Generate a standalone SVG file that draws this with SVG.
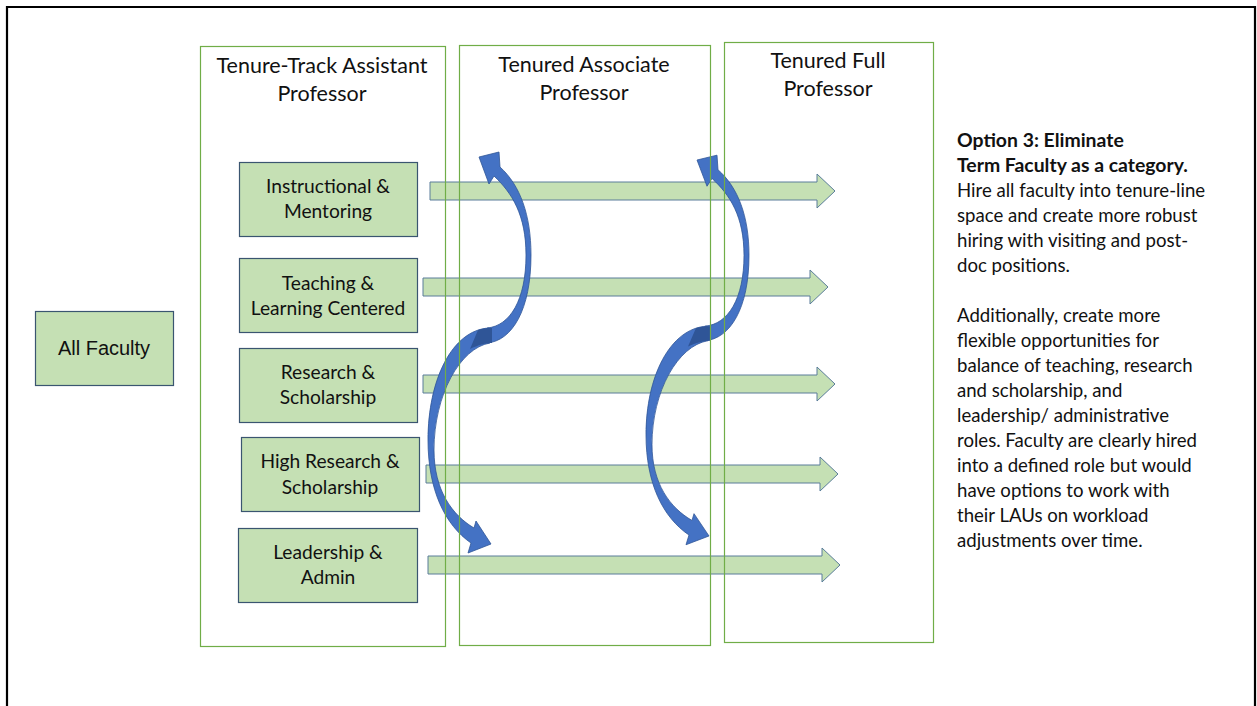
<svg xmlns="http://www.w3.org/2000/svg" width="1257" height="706" viewBox="0 0 1257 706">
<defs>
<style>
.col{fill:none;stroke:#70ad47;stroke-width:1.2}
.box{fill:#c5e0b4;stroke:#3a5570;stroke-width:1.2}
.harrow{fill:#c5e0b4;stroke:#5a7d9a;stroke-width:1}
.curl{fill:#4472c4;stroke:#2f5597;stroke-width:0.8}
.crease{fill:#2f5597}
.t{font-family:Lato,"Liberation Sans",sans-serif;fill:#111;text-anchor:middle}
.title{font-size:21.5px}
.lbl{font-size:19.2px}
.side{font-family:Lato,"Liberation Sans",sans-serif;fill:#111;font-size:18.6px}
.b{font-weight:bold;font-size:19.4px}
</style>
<g id="curlShape">
<path class="curl" d="M 487,343 C 512,341 531,310 531,255 C 531,215 520,185 500,167 L 499,152 L 479,157 L 489,184 L 494,176 C 512,193 526,215 526,255 C 526,300 510,326 487,328 Z"/>
<path class="curl" d="M 489,328 C 452,330 428,380 428,440 C 428,490 445,525 471,543 L 468,553 L 491,544 L 476,521 L 474,528 C 452,515 434,490 434,450 C 434,395 460,348 490,343 Z"/>
<path class="crease" d="M 478,330 C 484,328 489,328 492,328 L 492,343 C 486,343 478,345 470,349 Z"/>
</g>
</defs>
<rect width="1257" height="706" fill="#fff"/>
<path d="M7,706 V7 H1255 V706" fill="none" stroke="#000" stroke-width="2.2"/>

<g id="connectors">
<path class="harrow" d="M430,182 H817 V174 L835,191 L817,208 V200 H430 Z"/>
<path class="harrow" d="M423,278 H810 V270 L828,287 L810,304 V296 H423 Z"/>
<path class="harrow" d="M423,375 H817 V367 L835,384 L817,401 V393 H423 Z"/>
<path class="harrow" d="M426,465 H820 V457 L838,474 L820,491 V483 H426 Z"/>
<path class="harrow" d="M428,556 H822 V548 L840,565 L822,582 V574 H428 Z"/>
<use href="#curlShape"/>
<use href="#curlShape" transform="translate(218,7.5) scale(1,0.9715)"/>
</g>

<g id="col-assistant">
<rect class="col" x="200.5" y="46.5" width="245" height="600"/>
<text class="t title" x="322" y="73">Tenure-Track Assistant</text>
<text class="t title" x="322" y="101">Professor</text>
</g>
<g id="col-associate">
<rect class="col" x="459.5" y="45.5" width="251" height="600"/>
<text class="t title" x="584" y="72">Tenured Associate</text>
<text class="t title" x="584" y="100">Professor</text>
</g>
<g id="col-full">
<rect class="col" x="724.5" y="42.5" width="209" height="600"/>
<text class="t title" x="828" y="68">Tenured Full</text>
<text class="t title" x="828" y="96">Professor</text>
</g>

<g id="all-faculty">
<rect class="box" x="35.5" y="311.5" width="138" height="74"/>
<text x="104" y="355" font-family="'Liberation Sans',Arial,sans-serif" font-size="20" fill="#111" text-anchor="middle">All Faculty</text>
</g>
<g id="instructional">
<rect class="box" x="239.5" y="162.5" width="178" height="74"/>
<text class="t lbl" x="328" y="193">Instructional &amp;</text>
<text class="t lbl" x="328" y="218">Mentoring</text>
</g>
<g id="teaching">
<rect class="box" x="239.5" y="258.5" width="178" height="74"/>
<text class="t lbl" x="328" y="290">Teaching &amp;</text>
<text class="t lbl" x="328" y="315">Learning Centered</text>
</g>
<g id="research">
<rect class="box" x="239.5" y="348.5" width="178" height="74"/>
<text class="t lbl" x="328" y="379">Research &amp;</text>
<text class="t lbl" x="328" y="404">Scholarship</text>
</g>
<g id="high-research">
<rect class="box" x="241.5" y="437.5" width="178" height="74"/>
<text class="t lbl" x="330" y="468">High Research &amp;</text>
<text class="t lbl" x="330" y="494">Scholarship</text>
</g>
<g id="leadership">
<rect class="box" x="238.5" y="528.5" width="179" height="74"/>
<text class="t lbl" x="328" y="559">Leadership &amp;</text>
<text class="t lbl" x="328" y="584">Admin</text>
</g>

<g id="option-text">
<text class="side b" x="957" y="147">Option 3: Eliminate</text>
<text class="side b" x="957" y="172">Term Faculty as a category.</text>
<text class="side" x="957" y="197">Hire all faculty into tenure-line</text>
<text class="side" x="957" y="222">space and create more robust</text>
<text class="side" x="957" y="247">hiring with visiting and post-</text>
<text class="side" x="957" y="272">doc positions.</text>
<text class="side" x="957" y="322">Additionally, create more</text>
<text class="side" x="957" y="347">flexible opportunities for</text>
<text class="side" x="957" y="372">balance of teaching, research</text>
<text class="side" x="957" y="397">and scholarship, and</text>
<text class="side" x="957" y="422">leadership/ administrative</text>
<text class="side" x="957" y="447">roles. Faculty are clearly hired</text>
<text class="side" x="957" y="472">into a defined role but would</text>
<text class="side" x="957" y="497">have options to work with</text>
<text class="side" x="957" y="522">their LAUs on workload</text>
<text class="side" x="957" y="547">adjustments over time.</text>
</g>
</svg>
